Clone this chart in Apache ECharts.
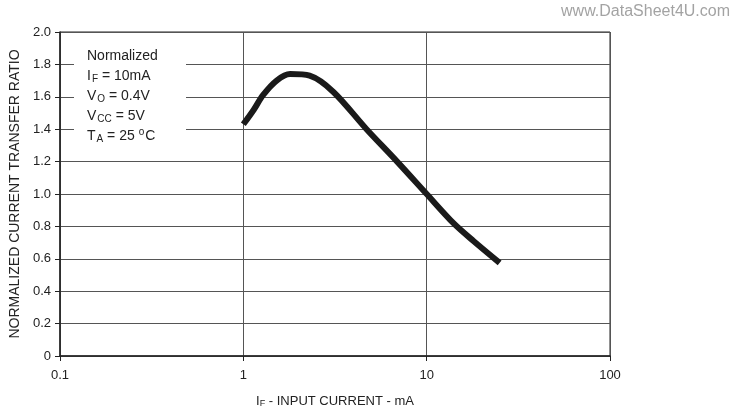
<!DOCTYPE html>
<html>
<head>
<meta charset="utf-8">
<script src="https://cdn.jsdelivr.net/npm/echarts@6/dist/echarts.min.js"></script>
<style>
  html, body { margin: 0; padding: 0; background: #fff; }
  #chart { width: 750px; height: 413px; }
</style>
</head>
<body>
<div id="chart"></div>
<script>
// Normalized CTR vs input current.
const CURRENT_MA = [1.0, 1.14, 1.28, 1.52, 1.8, 2.3, 3.1, 4.7, 6.9, 10, 14, 18, 25];
const RATIO = [1.43, 1.52, 1.61, 1.70, 1.74, 1.73, 1.63, 1.40, 1.20, 1.0, 0.82, 0.71, 0.575];
const X_TICKS = [0.1, 1, 10, 100];
const NOTE_LINES = [
  "Normalized",
  "{t|I}{s|F}{t| = 10mA}",
  "{t|V}{s|O}{t| = 0.4V}",
  "{t|V}{s|CC}{t| = 5V}",
  "{t|T}{s|A}{t| = 25 }{u|o}{t|C}",
];

const INK = "#222";
const GRID_LINE = "#555";
const FONT = "'Liberation Sans', Arial, sans-serif";

const chart = echarts.init(document.getElementById("chart"));

chart.setOption({
  backgroundColor: "#fff",
  animation: false,
  textStyle: { fontFamily: FONT },
  grid: {
    left: 60, right: 140, top: 32, bottom: 56,
    show: true, borderColor: INK, borderWidth: 1,
  },
  xAxis: {
    type: "log",
    logBase: 10,
    min: 0.1,
    max: 100,
    name: "{t|I}{s|F}{t| - INPUT CURRENT - mA}",
    nameLocation: "middle",
    nameGap: 38,
    nameTextStyle: {
      rich: {
        t: { fontSize: 13, color: INK, fontFamily: FONT },
        s: { fontSize: 9, color: INK, fontFamily: FONT, padding: [5, 0, 0, 0] },
      },
    },
    axisLine: { lineStyle: { color: INK, width: 1.5 } },
    axisTick: { show: true, length: 5, lineStyle: { color: INK } },
    minorTick: { show: false },
    axisLabel: {
      color: INK, fontSize: 13, margin: 13,
      formatter: (v) => (X_TICKS.some((t) => Math.abs(t - v) < 1e-9) ? String(v) : ""),
    },
    splitLine: { show: true, lineStyle: { color: GRID_LINE, width: 1 } },
  },
  yAxis: {
    type: "value",
    min: 0,
    max: 2,
    interval: 0.2,
    name: "NORMALIZED CURRENT TRANSFER RATIO",
    nameLocation: "middle",
    nameGap: 38,
    nameTextStyle: { color: INK, fontSize: 14 },
    axisLine: { show: true, lineStyle: { color: INK, width: 1.5 } },
    axisTick: { show: true, length: 5, lineStyle: { color: INK } },
    axisLabel: {
      color: INK, fontSize: 13, margin: 9,
      formatter: (v) => (v === 0 ? "0" : v.toFixed(1)),
    },
    splitLine: { show: true, lineStyle: { color: GRID_LINE, width: 1 } },
  },
  graphic: [
    {
      type: "rect",
      left: 74, top: 40, z: 10,
      shape: { width: 112, height: 110 },
      style: { fill: "#fff" },
    },
    {
      type: "text",
      left: 87, top: 46, z: 11,
      style: {
        text: NOTE_LINES.join("\n"),
        fill: INK,
        font: "14px " + FONT,
        lineHeight: 20,
        rich: {
          t: { fontSize: 14, fill: INK, fontFamily: FONT, lineHeight: 20 },
          s: { fontSize: 10, fill: INK, fontFamily: FONT, padding: [7, 0, 0, 1] },
          u: { fontSize: 10, fill: INK, fontFamily: FONT, padding: [0, 1, 7, 0] },
        },
      },
    },
    {
      type: "text",
      right: 20, top: 4, z: 11,
      style: { text: "www.DataSheet4U.com", fill: "#a3a3a3", font: "16px " + FONT },
    },
  ],
  series: [
    {
      type: "line",
      smooth: 0.3,
      showSymbol: false,
      z: 5,
      lineStyle: { color: "#1a1a1a", width: 6, cap: "butt" },
      data: CURRENT_MA.map((x, i) => [x, RATIO[i]]),
    },
  ],
});
</script>
</body>
</html>
